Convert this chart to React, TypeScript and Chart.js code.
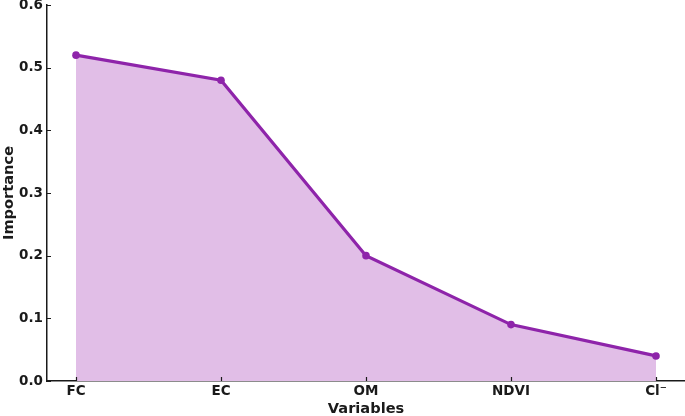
import React, { useEffect, useRef } from "react";
import { Chart, registerables } from "chart.js";

Chart.register(...registerables);

const categories = ["FC", "EC", "OM", "NDVI", "Cl⁻"];
const importance = [0.52, 0.48, 0.2, 0.09, 0.04];
const yTicks = [0, 0.1, 0.2, 0.3, 0.4, 0.5, 0.6];

const LINE = "#8e24aa";
const FILL = "#e1bee7";
const AXIS = "#1a1a1a";
const FONT = "'DejaVu Sans', sans-serif";

const inwardTicks = {
  id: "inwardTicks",
  afterDatasetsDraw(chart: any) {
    const { ctx, chartArea, scales } = chart;
    ctx.save();
    ctx.strokeStyle = AXIS;
    ctx.lineWidth = 1.2;
    const xs = scales.x;
    const ys = scales.y;
    ctx.beginPath();
    categories.forEach((_, i) => {
      const px = Math.round(xs.getPixelForValue(i)) + 0.5;
      ctx.moveTo(px, chartArea.bottom);
      ctx.lineTo(px, chartArea.bottom - 4);
    });
    yTicks.forEach((v) => {
      const py = Math.round(ys.getPixelForValue(v)) + 0.5;
      ctx.moveTo(chartArea.left, py);
      ctx.lineTo(chartArea.left + 4, py);
    });
    ctx.stroke();
    ctx.restore();
  },
};

export default function App() {
  const ref = useRef<HTMLCanvasElement | null>(null);
  useEffect(() => {
    if (!ref.current) return;
    const chart = new Chart(ref.current, {
      type: "line",
      data: {
        datasets: [
          {
            data: importance.map((v, i) => ({ x: i, y: v })),
            borderColor: LINE,
            backgroundColor: FILL,
            fill: "origin",
            borderWidth: 3.2,
            pointRadius: 3.8,
            pointBackgroundColor: LINE,
            pointBorderColor: LINE,
            pointBorderWidth: 0,
            tension: 0,
          },
        ],
      },
      plugins: [inwardTicks],
      options: {
        animation: false,
        responsive: false,
        layout: { padding: { top: 5, right: 0, left: 0, bottom: 0 } },
        plugins: { legend: { display: false }, tooltip: { enabled: false } },
        scales: {
          x: {
            type: "linear",
            min: -0.2,
            max: categories.length - 1 + 0.2,
            afterBuildTicks: (scale: any) => {
              scale.ticks = categories.map((_, i) => ({ value: i }));
            },
            afterFit: (scale: any) => {
              scale.height = 35;
              scale.paddingLeft = 0;
              scale.paddingRight = 0;
            },
            ticks: {
              callback: (v: any) => categories[Math.round(Number(v))] ?? "",
              color: AXIS,
              font: { family: FONT, size: 13.5, weight: "bold" },
              padding: 2,
              maxRotation: 0,
              autoSkip: false,
            },
            grid: { display: false, drawTicks: false },
            border: { display: true, color: AXIS, width: 1.5 },
            title: {
              display: true,
              text: "Variables",
              color: AXIS,
              font: { family: FONT, size: 14.6, weight: "bold" },
              padding: { top: 0, bottom: -2 },
            },
          },
          y: {
            type: "linear",
            min: 0,
            max: 0.6,
            afterBuildTicks: (scale: any) => {
              scale.ticks = yTicks.map((v) => ({ value: v }));
            },
            afterFit: (scale: any) => {
              scale.width = 47;
              scale.paddingTop = 0;
              scale.paddingBottom = 0;
            },
            ticks: {
              callback: (v: any) => Number(v).toFixed(1),
              color: AXIS,
              font: { family: FONT, size: 13.5, weight: "bold" },
              padding: 4,
            },
            grid: { display: false, drawTicks: false },
            border: { display: true, color: AXIS, width: 1.5 },
            title: {
              display: true,
              text: "Importance",
              color: AXIS,
              font: { family: FONT, size: 14.6, weight: "bold" },
              padding: { top: 0, bottom: 0 },
            },
          },
        },
      },
    } as any);
    return () => chart.destroy();
  }, []);
  return (
    <div style={{ position: "fixed", left: 0, top: 0, width: 685, height: 416, background: "#fff", overflow: "hidden" }}>
      <canvas ref={ref} width={689} height={416} style={{ display: "block" }} />
    </div>
  );
}
